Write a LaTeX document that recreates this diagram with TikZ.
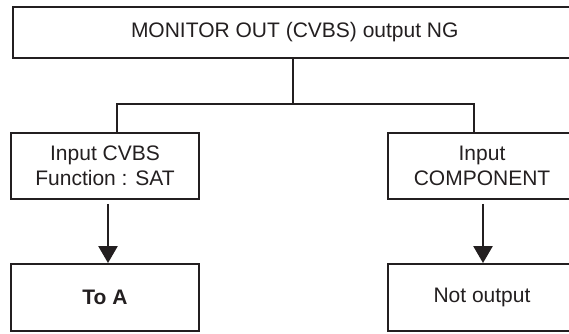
\documentclass[tikz,border=0pt]{standalone}
\usepackage{fontspec}
\setmainfont{Liberation Sans}
\usetikzlibrary{arrows.meta,positioning}
\definecolor{inkGray}{RGB}{35,31,32}

\begin{document}
\begin{tikzpicture}[
  x=1pt, y=-1pt,
  stage/.style={
    draw=inkGray,
    line width=1.9pt,
    minimum width=188pt,
    minimum height=66pt,
    align=center,
    inner sep=0pt,
    text=inkGray,
    font=\fontsize{21}{25}\selectfont
  },
  link/.style={inkGray,line width=2.5pt},
  arrow/.style={-{Triangle[width=19pt,length=17pt]},inkGray,line width=2.5pt,shorten <=4pt}
]
  \useasboundingbox (0,0) rectangle (569,333);
  \clip (0,0) rectangle (569,333);
  \node[stage,minimum width=564pt,minimum height=51pt] (monitor) at (294.75,32.5) {MONITOR OUT (CVBS) output NG};
  \node[stage] (cvbs) at (105,166) {Input CVBS\\Function : SAT};
  \node[stage] (component) at (482,166) {Input\\COMPONENT};
  \node[stage,minimum height=67pt] (toa) at (105,297.5) {\textbf{To A}};
  \node[stage,minimum height=67pt] (noout) at (482,297.5) {Not output};
  \draw[link] ([xshift=-1.75pt]monitor.south) -- ++(0,45) coordinate (fork);
  \draw[link] ([xshift=12pt]cvbs.north) |- (fork) -| ([xshift=-8pt]component.north);
  \draw[arrow] ([xshift=3pt]cvbs.south) -- ([xshift=3pt]toa.north);
  \draw[arrow] ([xshift=1pt]component.south) -- ([xshift=1pt]noout.north);
\end{tikzpicture}
\end{document}
